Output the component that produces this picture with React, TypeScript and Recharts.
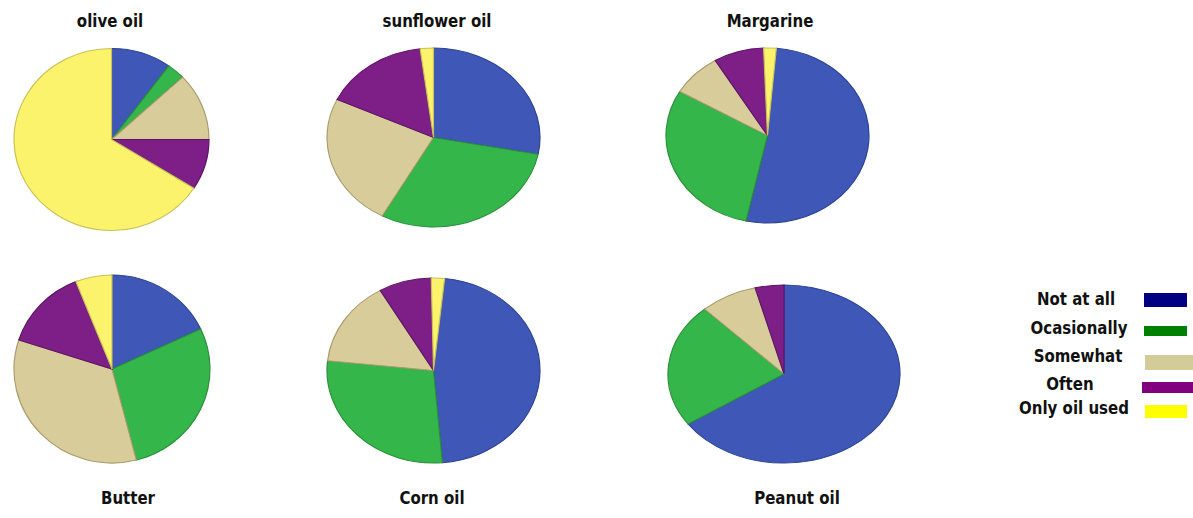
import React from 'react';
import { PieChart, Pie, Cell } from 'recharts';

// Frequency answers, in the order slices run clockwise from 12 o'clock
const categories = ['Not at all', 'Ocasionally', 'Somewhat', 'Often', 'Only oil used'];

// Share of respondents (%) per answer, one list per fat
const oliveOil = [10, 3, 12, 9, 66];
const sunflowerOil = [28, 30, 24, 16, 2];
const margarine = [52, 30, 8, 8, 2];
const butter = [18, 28, 34, 14, 6];
const cornOil = [47, 28, 15, 8, 2];
const peanutOil = [65.5, 22.5, 8, 4, 0];

const chartTitles = ['olive oil', 'sunflower oil', 'Margarine', 'Butter', 'Corn oil', 'Peanut oil'];
const chartValues = [oliveOil, sunflowerOil, margarine, butter, cornOil, peanutOil];

// Slice fills and their outlines
const sliceFill = ['#3f58b8', '#35b64a', '#d8cc9a', '#7e1f87', '#fbf36c'];
const sliceEdge = ['#2e4390', '#2a8f3a', '#a89d6e', '#5e1466', '#c9c25a'];
// Legend swatch colours
const swatchFill = ['#000080', '#008000', '#d4cc98', '#800080', '#ffff00'];

// Layout of each ellipse: centre, horizontal and vertical radius, start rotation
const pieLayout = [
  { cx: 111.5, cy: 139, rx: 97.5, ry: 91, start: 90 },
  { cx: 433.5, cy: 137.5, rx: 106.5, ry: 89.5, start: 90 },
  { cx: 767, cy: 135.5, rx: 101.5, ry: 87.5, start: 85 },
  { cx: 112, cy: 369, rx: 98, ry: 94, start: 90 },
  { cx: 433.5, cy: 370.5, rx: 106.5, ry: 92.5, start: 84 },
  { cx: 784, cy: 374, rx: 116, ry: 89, start: 90 },
];
const titleLayout = [
  { x: 110, y: 22 },
  { x: 437, y: 22 },
  { x: 770, y: 22 },
  { x: 128, y: 499 },
  { x: 432, y: 499 },
  { x: 797, y: 499 },
];

const legendText = [
  { x: 1076, y: 300 },
  { x: 1079, y: 329 },
  { x: 1078, y: 357 },
  { x: 1070, y: 385 },
  { x: 1074, y: 409 },
];
const legendSwatch = [
  { x: 1144, y: 293, w: 43, h: 14 },
  { x: 1144, y: 326, w: 43, h: 10 },
  { x: 1145, y: 355, w: 48, h: 15 },
  { x: 1142, y: 382, w: 51, h: 11 },
  { x: 1145, y: 405, w: 42, h: 13 },
];

const labelFont: React.CSSProperties = {
  fontFamily: '"DejaVu Sans", sans-serif',
  fontWeight: 700,
  fontSize: 15,
  color: '#111',
  whiteSpace: 'nowrap',
  position: 'absolute',
  transform: 'translate(-50%, -50%) scaleY(1.15)',
  lineHeight: 1,
};

function EllipsePie({ values, layout }: { values: number[]; layout: typeof pieLayout[number] }) {
  const size = Math.ceil(layout.rx * 2 + 4);
  const data = categories
    .map((name, i) => ({ name, value: values[i], idx: i }))
    .filter((d) => d.value > 0);
  return (
    <div
      style={{
        position: 'absolute',
        left: layout.cx - size / 2,
        top: layout.cy - size / 2,
        width: size,
        height: size,
        transform: `scaleY(${layout.ry / layout.rx})`,
        transformOrigin: 'center center',
      }}
    >
      <PieChart width={size} height={size} margin={{ top: 0, right: 0, bottom: 0, left: 0 }}>
        <Pie
          data={data}
          dataKey="value"
          nameKey="name"
          cx="50%"
          cy="50%"
          innerRadius={0}
          outerRadius={layout.rx}
          startAngle={layout.start}
          endAngle={layout.start - 360}
          isAnimationActive={false}
          label={false}
          labelLine={false}
        >
          {data.map((d) => (
            <Cell key={d.name} fill={sliceFill[d.idx]} stroke={sliceEdge[d.idx]} strokeWidth={1.2} />
          ))}
        </Pie>
      </PieChart>
    </div>
  );
}

export default function App() {
  return (
    <div
      style={{
        position: 'absolute',
        left: 0,
        top: 0,
        width: 1193,
        height: 518,
        background: '#ffffff',
        overflow: 'hidden',
      }}
    >
      {chartValues.map((values, i) => (
        <EllipsePie key={chartTitles[i]} values={values} layout={pieLayout[i]} />
      ))}
      {chartTitles.map((t, i) => (
        <div key={t} style={{ ...labelFont, left: titleLayout[i].x, top: titleLayout[i].y }}>
          {t}
        </div>
      ))}
      {categories.map((c, i) => (
        <React.Fragment key={c}>
          <div style={{ ...labelFont, left: legendText[i].x, top: legendText[i].y }}>{c}</div>
          <div
            style={{
              position: 'absolute',
              left: legendSwatch[i].x,
              top: legendSwatch[i].y,
              width: legendSwatch[i].w,
              height: legendSwatch[i].h,
              background: swatchFill[i],
            }}
          />
        </React.Fragment>
      ))}
    </div>
  );
}
